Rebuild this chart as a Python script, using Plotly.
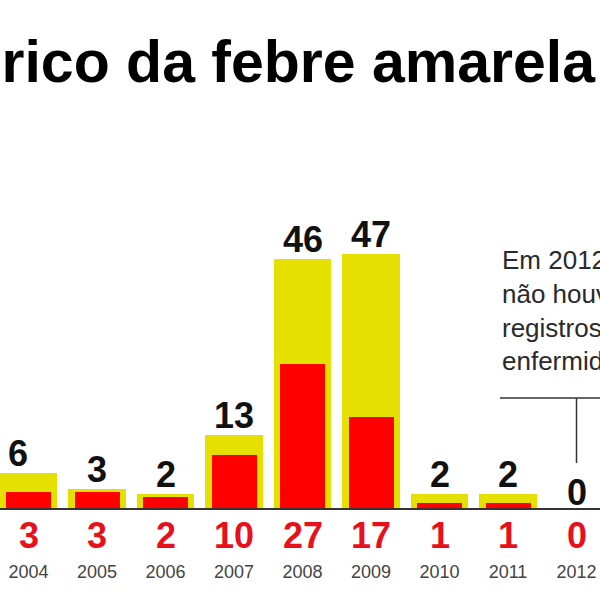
import plotly.graph_objects as go

years = ["2004", "2005", "2006", "2007", "2008", "2009", "2010", "2011", "2012"]
cases = [6, 3, 2, 13, 46, 47, 2, 2, 0]
deaths = [3, 3, 2, 10, 27, 17, 1, 1, 0]
title_text = "Histórico da febre amarela"
note_lines = ["Em 2012,", "não houve", "registros da", "enfermidade"]

YELLOW = "#E6E000"
RED = "#FF0000"
RED_TXT = "#E8101A"
FONT = "Liberation Sans, Arial, sans-serif"

PX_PER_UNIT = 5.35
BASE_PX = 508
H = 600

fig = go.Figure()
fig.add_trace(go.Bar(
    x=years, y=cases, width=0.745,
    marker=dict(color=YELLOW,
                line=dict(color=YELLOW, width=[6 if c > 0 else 0 for c in cases])),
    hoverinfo="skip", showlegend=False,
))
fig.add_trace(go.Bar(
    x=years, y=deaths, width=0.657,
    marker=dict(color=RED, line=dict(width=0)),
    hoverinfo="skip", showlegend=False,
))

ann = []
for i, (yr, c, d) in enumerate(zip(years, cases, deaths)):
    ann.append(dict(
        x=i, y=c, xref="x", yref="y", text=str(c), showarrow=False,
        yanchor="bottom", xanchor="center",
        xshift=-11 if yr == "2004" else 0,
        yshift=-7 if c == 0 else 0,
        font=dict(family=FONT, size=36, color="#111111", weight="bold"),
    ))
    ann.append(dict(
        x=i, y=0, xref="x", yref="y", text=str(d), showarrow=False,
        yanchor="middle", xanchor="center", yshift=-27,
        font=dict(family=FONT, size=36, color=RED_TXT, weight="bold"),
    ))

ann.append(dict(
    x=598 / 600, y=1 - 62.5 / H, xref="paper", yref="paper",
    text=title_text, showarrow=False, xanchor="right", yanchor="middle",
    font=dict(family=FONT, size=59, color="#000000", weight="bold"),
))
ann.append(dict(
    x=500 / 600, y=1 - 243 / H, xref="paper", yref="paper",
    text="<br>".join(note_lines), showarrow=False, xanchor="left", yanchor="top",
    align="left",
    font=dict(family=FONT, size=26, color="#2a2a2a"),
))

i2012 = years.index("2012")
shapes = [
    dict(type="line", xref="paper", yref="paper", x0=500 / 600, x1=1.02,
         y0=1 - 398 / H, y1=1 - 398 / H, line=dict(color="#333333", width=1.5)),
    dict(type="line", xref="x", yref="paper", x0=i2012, x1=i2012,
         y0=1 - 398 / H, y1=1 - 463 / H, line=dict(color="#333333", width=1.5)),
]

fig.update_layout(
    width=600, height=600,
    margin=dict(l=0, r=0, t=0, b=0),
    paper_bgcolor="white", plot_bgcolor="white",
    barmode="overlay", bargap=0,
    annotations=ann, shapes=shapes,
    xaxis=dict(
        type="category", categoryorder="array", categoryarray=years,
        range=[-28.5 / 68.5, (600 - 28.5) / 68.5],
        showline=True, linecolor="#333333", linewidth=2,
        ticks="", showgrid=False, zeroline=False, fixedrange=True,
        tickfont=dict(family=FONT, size=18, color="#444444"),
        ticklabelstandoff=46,
    ),
    yaxis=dict(
        domain=[(H - BASE_PX) / H, 1],
        range=[0, BASE_PX / PX_PER_UNIT],
        visible=False, showgrid=False, zeroline=False, fixedrange=True,
    ),
)

fig.write_html(
    "out.html",
    config={"displayModeBar": False},
    post_script="document.body.style.margin='0';document.body.style.overflow='hidden';",
)
